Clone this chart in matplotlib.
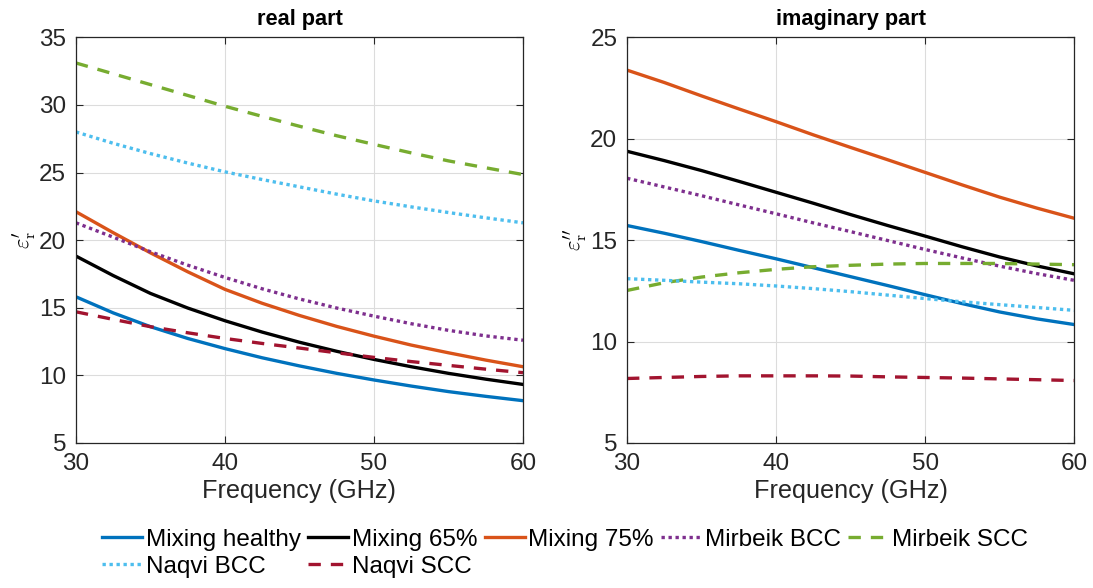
import numpy as np
import matplotlib.pyplot as plt

plt.rcParams['font.family'] = ['Liberation Sans', 'DejaVu Sans']
plt.rcParams['mathtext.fontset'] = 'cm'

# --- data (frequency in GHz) ---
freq = [30, 32.5, 35, 37.5, 40, 42.5, 45, 47.5, 50, 52.5, 55, 57.5, 60]

# real part
re_mix_healthy = [15.81, 14.62, 13.6, 12.73, 11.98, 11.3, 10.7, 10.15, 9.66, 9.21, 8.8, 8.45, 8.13]
re_mix_65 = [18.82, 17.38, 16.06, 14.98, 14.04, 13.2, 12.45, 11.78, 11.18, 10.64, 10.15, 9.72, 9.33]
re_mix_75 = [22.1, 20.55, 19.06, 17.66, 16.36, 15.33, 14.43, 13.62, 12.9, 12.24, 11.67, 11.13, 10.64]
re_mirbeik_bcc = [21.28, 20.22, 19.14, 18.15, 17.24, 16.4, 15.65, 14.98, 14.38, 13.82, 13.33, 12.92, 12.6]
re_mirbeik_scc = [33.1, 32.3, 31.5, 30.7, 29.9, 29.15, 28.42, 27.72, 27.08, 26.45, 25.86, 25.35, 24.85]
re_naqvi_bcc = [28.0, 27.16, 26.4, 25.7, 25.05, 24.48, 23.94, 23.4, 22.9, 22.46, 22.04, 21.65, 21.28]
re_naqvi_scc = [14.7, 14.14, 13.6, 13.15, 12.73, 12.36, 12.02, 11.67, 11.33, 11.02, 10.74, 10.46, 10.2]

# imaginary part
im_mix_healthy = [15.72, 15.34, 14.93, 14.5, 14.08, 13.64, 13.2, 12.76, 12.31, 11.87, 11.46, 11.12, 10.84]
im_mix_65 = [19.38, 18.92, 18.43, 17.9, 17.36, 16.82, 16.26, 15.72, 15.2, 14.67, 14.17, 13.73, 13.34]
im_mix_75 = [23.38, 22.77, 22.11, 21.47, 20.84, 20.19, 19.57, 18.96, 18.34, 17.72, 17.12, 16.58, 16.08]
im_mirbeik_bcc = [18.05, 17.62, 17.19, 16.74, 16.3, 15.85, 15.42, 14.98, 14.54, 14.12, 13.72, 13.35, 13.02]
im_mirbeik_scc = [12.52, 12.9, 13.18, 13.39, 13.56, 13.69, 13.76, 13.82, 13.85, 13.85, 13.85, 13.82, 13.79]
im_naqvi_bcc = [13.1, 13.02, 12.93, 12.85, 12.74, 12.61, 12.46, 12.29, 12.12, 11.96, 11.82, 11.68, 11.54]
im_naqvi_scc = [8.18, 8.23, 8.28, 8.31, 8.31, 8.31, 8.3, 8.26, 8.23, 8.2, 8.16, 8.12, 8.08]

labels = ['Mixing healthy', 'Mixing 65%', 'Mixing 75%', 'Mirbeik BCC',
          'Mirbeik SCC', 'Naqvi BCC', 'Naqvi SCC']
colors = ['#0072BD', '#000000', '#D95319', '#7E2F8E', '#77AC30', '#4DBEEE', '#A2142F']
styles = ['-', '-', '-', ':', '--', ':', '--']

real_data = [re_mix_healthy, re_mix_65, re_mix_75, re_mirbeik_bcc,
             re_mirbeik_scc, re_naqvi_bcc, re_naqvi_scc]
imag_data = [im_mix_healthy, im_mix_65, im_mix_75, im_mirbeik_bcc,
             im_mirbeik_scc, im_naqvi_bcc, im_naqvi_scc]

fig = plt.figure(figsize=(10.93, 5.88), dpi=100)
ax1 = fig.add_axes([0.0695, 0.2466, 0.409, 0.690])
ax2 = fig.add_axes([0.5737, 0.2466, 0.409, 0.690])

lw = 2.4
dash = {'-': None, ':': (1, 1.1), '--': (3.7, 3.0)}


def draw(ax, data):
    handles = []
    for y, c, s, lab in zip(data, colors, styles, labels):
        line, = ax.plot(freq, y, color=c, lw=lw, label=lab)
        if dash[s] is not None:
            line.set_dashes(dash[s])
        handles.append(line)
    return handles


def style_axes(ax, ylim, yticks, ylabel, title):
    ax.set_xlim(30, 60)
    ax.set_ylim(*ylim)
    ax.set_xticks([30, 40, 50, 60])
    ax.set_yticks(yticks)
    ax.grid(True, color='#dcdcdc', lw=0.8)
    ax.set_axisbelow(True)
    ax.tick_params(direction='in', top=True, right=True, labelsize=17.5,
                   colors='#262626', length=5, width=0.8, pad=7)
    for sp in ax.spines.values():
        sp.set_color('#262626')
        sp.set_linewidth(0.9)
    ax.set_xlabel('Frequency (GHz)', fontsize=18.2, color='#262626', labelpad=3)
    ax.set_ylabel(ylabel, fontsize=16, labelpad=1)
    ax.set_title(title, fontsize=15.7, fontweight='bold', pad=9)


h = draw(ax1, real_data)
draw(ax2, imag_data)
style_axes(ax1, (5, 35), range(5, 36, 5), r"$\varepsilon_{\rm r}'$", 'real part')
style_axes(ax2, (5, 25), range(5, 26, 5), r"$\varepsilon_{\rm r}''$", 'imaginary part')

# legend is filled column by column, so reorder to get MATLAB's row order
order = [0, 5, 1, 6, 2, 3, 4]
fig.legend([h[i] for i in order], [labels[i] for i in order],
           loc='center', bbox_to_anchor=(0.517, 0.059), ncol=5, frameon=False,
           fontsize=17.5, handlelength=1.65, handletextpad=0.15, columnspacing=0.3,
           labelspacing=0.2, borderpad=0.2)

fig.savefig('out.png', dpi=100, facecolor='white')
